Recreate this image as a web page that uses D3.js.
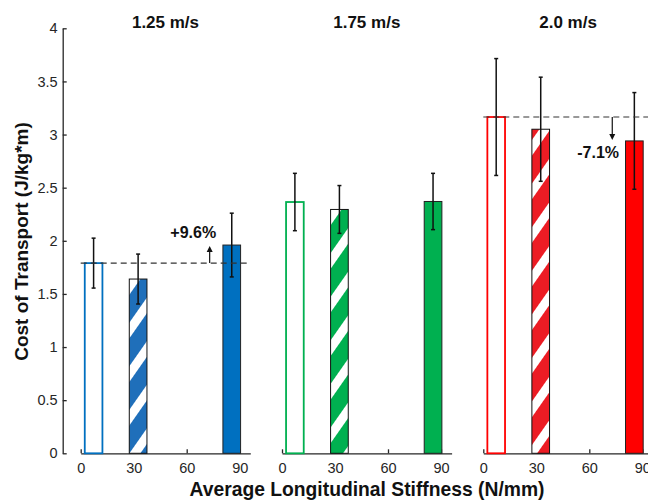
<!DOCTYPE html>
<html>
<head>
<meta charset="utf-8">
<script src="https://cdn.jsdelivr.net/npm/d3@7"></script>
<style>
  body { margin: 0; background: #fff; }
  svg { display: block; font-family: Arial, "Liberation Sans", sans-serif; }
</style>
</head>
<body>
<div id="chart"></div>
<script>
// Panel titles (walking speed)
const speeds = ["1.25 m/s", "1.75 m/s", "2.0 m/s"];
// Average longitudinal stiffness of the three conditions (N/mm)
const stiffness = [7.3, 32.5, 85.5];
const barStyles = ["open", "hatched", "filled"];
// Mean cost of transport per speed (J/kg*m)
const cot125 = [1.79, 1.64, 1.96];
const cot175 = [2.365, 2.295, 2.37];
const cot200 = [3.165, 3.05, 2.94];
// Standard deviations
const sd125 = [0.235, 0.235, 0.30];
const sd175 = [0.27, 0.225, 0.265];
const sd200 = [0.55, 0.49, 0.455];
// Percent change of the stiffest condition vs the baseline
const changeLabels = ["+9.6%", null, "-7.1%"];
// Tick labels
const xTicks = [0, 30, 60, 90];
const yTicks = [0, 0.5, 1, 1.5, 2, 2.5, 3, 3.5, 4];

const means = [cot125, cot175, cot200];
const sds = [sd125, sd175, sd200];
const mainColors = ["#0070C0", "#00B050", "#FF0000"];
const hatchColors = ["#1F6FBA", "#00B050", "#EC1C24"];

const svgWidth = 648;
const svgHeight = 500;
const axisColor = "#262626";

const svg = d3.select("#chart")
    .append("svg")
    .attr("width", svgWidth)
    .attr("height", svgHeight);

// Diagonal stripe pattern for the hatched bars
const defs = svg.append("defs");
hatchColors.forEach((c, i) => {
    const p = defs.append("pattern")
        .attr("id", "hatch" + i)
        .attr("patternUnits", "userSpaceOnUse")
        .attr("width", 25)
        .attr("height", 10)
        .attr("patternTransform", "rotate(35)");
    p.append("rect").attr("width", 25).attr("height", 10).attr("fill", "#fff");
    p.append("rect").attr("width", 16).attr("height", 10).attr("fill", c);
});

// Shared y scale
const y = d3.scaleLinear().domain([0, 4]).range([453.3, 28.3]);

// Y axis only on the first panel
const yAxis = svg.append("g")
    .attr("transform", "translate(62.7,0)")
    .call(d3.axisLeft(y).tickValues(yTicks).tickFormat(d => String(d))
        .tickSizeInner(-4).tickSizeOuter(0).tickPadding(5));
yAxis.selectAll("text").attr("font-size", 14.5).attr("fill", axisColor).attr("font-family", null);
yAxis.selectAll("line, path").attr("stroke", axisColor).attr("stroke-width", 1.3);

svg.append("text")
    .attr("transform", "translate(28,241.5) rotate(-90)")
    .attr("text-anchor", "middle")
    .attr("font-size", 19)
    .attr("font-weight", "bold")
    .attr("fill", "#111")
    .text("Cost of Transport (J/kg*m)");

svg.append("text")
    .attr("x", 367)
    .attr("y", 496)
    .attr("text-anchor", "middle")
    .attr("font-size", 19.3)
    .attr("font-weight", "bold")
    .attr("fill", "#111")
    .text("Average Longitudinal Stiffness (N/mm)");

const barW = 10; // bar width in N/mm units

speeds.forEach((speed, i) => {
    const x0 = 80.7 + i * 201.3;
    const x = d3.scaleLinear().domain([0, 96]).range([x0, x0 + 169.6]);
    const g = svg.append("g");

    // X axis
    const xAxis = g.append("g")
        .attr("transform", "translate(0," + y(0) + ")")
        .call(d3.axisBottom(x).tickValues(xTicks).tickSizeInner(-4).tickSizeOuter(0).tickPadding(9));
    xAxis.selectAll("text").attr("font-size", 14.5).attr("fill", axisColor).attr("font-family", null);
    xAxis.selectAll("line, path").attr("stroke", axisColor).attr("stroke-width", 1.3);

    // Panel title
    g.append("text")
        .attr("x", (x.range()[0] + x.range()[1]) / 2)
        .attr("y", 28)
        .attr("text-anchor", "middle")
        .attr("font-size", 17)
        .attr("font-weight", "bold")
        .attr("fill", "#111")
        .text(speed);

    // Bars
    stiffness.forEach((s, j) => {
        const style = barStyles[j];
        const bx = x(s - barW / 2);
        const bw = x(s + barW / 2) - bx;
        const rect = g.append("rect")
            .attr("x", bx)
            .attr("y", y(means[i][j]))
            .attr("width", bw)
            .attr("height", y(0) - y(means[i][j]));
        if (style === "open") {
            rect.attr("fill", "#fff").attr("stroke", mainColors[i]).attr("stroke-width", 1.8);
        } else if (style === "hatched") {
            rect.attr("fill", "url(#hatch" + i + ")").attr("stroke", "#111").attr("stroke-width", 1);
        } else {
            rect.attr("fill", mainColors[i]).attr("stroke", "#222").attr("stroke-width", 1);
        }
    });

    // Error bars
    stiffness.forEach((s, j) => {
        const cx = x(s);
        const top = y(means[i][j] + sds[i][j]);
        const bot = y(means[i][j] - sds[i][j]);
        g.append("line").attr("x1", cx).attr("x2", cx).attr("y1", top).attr("y2", bot)
            .attr("stroke", "#111").attr("stroke-width", 1.5);
        [top, bot].forEach(yy => {
            g.append("line").attr("x1", cx - 2).attr("x2", cx + 2).attr("y1", yy).attr("y2", yy)
                .attr("stroke", "#111").attr("stroke-width", 1.5);
        });
    });

    // Baseline reference and percent change arrow
    if (changeLabels[i]) {
        const base = means[i][0];
        const last = means[i][2];
        g.append("line")
            .attr("x1", x(0)).attr("x2", x(96))
            .attr("y1", y(base)).attr("y2", y(base))
            .attr("stroke", "#333").attr("stroke-width", 1.1)
            .attr("stroke-dasharray", "6,4");

        const ax = x(73);
        const up = last > base;
        const tip = y(last) + (up ? 1 : -1);
        g.append("line")
            .attr("x1", ax).attr("x2", ax)
            .attr("y1", y(base)).attr("y2", tip + (up ? 4 : -4))
            .attr("stroke", "#111").attr("stroke-width", 1.2);
        const d = up ? -1 : 1;
        g.append("path")
            .attr("d", `M${ax},${tip} L${ax - 3},${tip - 6 * d} L${ax + 3},${tip - 6 * d} Z`)
            .attr("fill", "#111");

        g.append("text")
            .attr("x", x(up ? 63.7 : 65))
            .attr("y", up ? tip - 8 : tip + 18)
            .attr("text-anchor", "middle")
            .attr("font-size", 16)
            .attr("font-weight", "bold")
            .attr("fill", "#111")
            .text(changeLabels[i]);
    }
});
</script>
</body>
</html>
